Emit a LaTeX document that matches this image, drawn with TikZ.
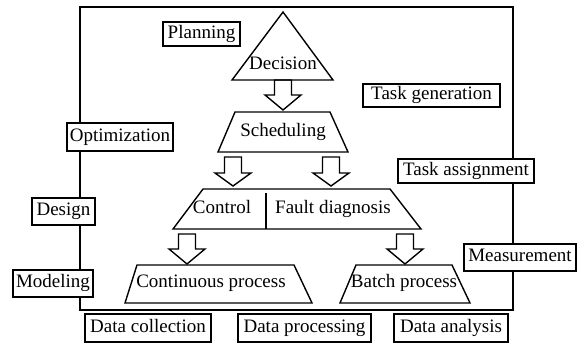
\documentclass[tikz,border=0pt]{standalone}
\usepackage{fontspec}
\setmainfont{Liberation Serif}
\newcommand\HollowArr[4]{% center x, top y, head start y, tip y
  \draw[shape line] (#1-8.5,#2) -- (#1+8.5,#2) -- (#1+8.5,#3) -- (#1+18,#3) -- (#1,#4)
    -- (#1-18,#3) -- (#1-8.5,#3) -- cycle;}
\begin{document}
\begin{tikzpicture}[x=1pt,y=-1pt,
  shape line/.style={draw=black, line width=1.4pt, line join=miter},
  lbl/.style={draw=black, fill=white, line width=1.2pt, inner sep=0pt,
    font=\fontsize{19}{21}\selectfont, text height=13pt, text depth=4pt},
  inner/.style={inner sep=0pt, font=\fontsize{19}{21}\selectfont, text height=13pt, text depth=4pt}]
\useasboundingbox (0,0) rectangle (583,344);
% frame
\draw[line width=1.9pt] (80,7) rectangle (513,310);
% shapes
\draw[shape line] (283,12) -- (333,80) -- (232,80) -- cycle;
\draw[shape line] (235,112) -- (330,112) -- (348,152) -- (218,152) -- cycle;
\draw[shape line] (203,189) -- (390,189) -- (421,229) -- (173,229) -- cycle;
\draw[shape line] (266,193) -- (266,229);
\draw[shape line] (137,265) -- (294,265) -- (312,303) -- (125,303) -- cycle;
\draw[shape line] (356,265) -- (452,265) -- (470,303) -- (340,303) -- cycle;
% hollow arrows
\HollowArr{283}{80}{95}{110}
\HollowArr{233}{157}{173}{186}
\HollowArr{331}{157}{173}{186}
\HollowArr{187}{234}{249}{264}
\HollowArr{405}{234}{249}{264}
% inner texts
\node[inner] (dec) at (283,65) {Decision};
\node[inner] (sch) at (283,132) {Scheduling};
\node[inner] (ctl) at (222,209) {Control};
\node[inner] (fd) at (333,209) {Fault diagnosis};
\node[inner] (cp) at (211,283) {Continuous process};
\node[inner] (bp) at (404,283) {Batch process};
% labels
\node[lbl, minimum width=77pt, minimum height=24pt] (plan) at (201.5,34) {Planning};
\node[lbl, minimum width=106pt, minimum height=28pt] (opt) at (120,137) {Optimization};
\node[lbl, minimum width=137pt, minimum height=23pt] (tg) at (431.5,95.5) {Task generation};
\node[lbl, minimum width=136pt, minimum height=24pt] (ta) at (466,171) {Task assignment};
\node[lbl, minimum width=63pt, minimum height=27pt] (des) at (63.5,211.5) {Design};
\node[lbl, minimum width=80pt, minimum height=27pt] (mod) at (53,283.5) {Modeling};
\node[lbl, minimum width=112pt, minimum height=27pt] (mea) at (520,257.5) {Measurement};
\node[lbl, minimum width=126pt, minimum height=28pt] (dc) at (148,328) {Data collection};
\node[lbl, minimum width=133pt, minimum height=28pt] (dp) at (304.5,328) {Data processing};
\node[lbl, minimum width=114pt, minimum height=28pt] (da) at (451,328) {Data analysis};
\end{tikzpicture}
\end{document}
